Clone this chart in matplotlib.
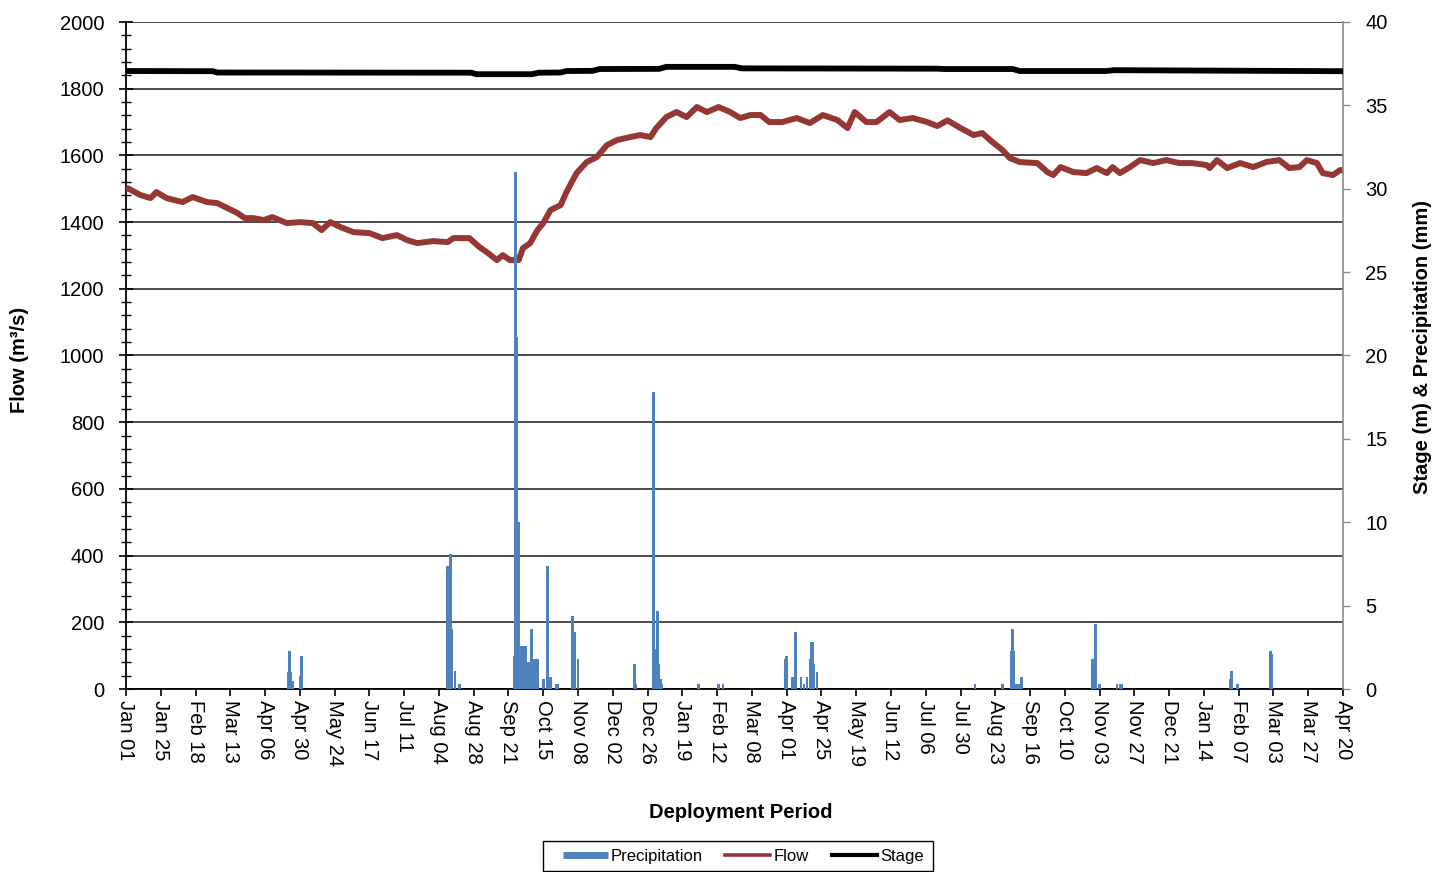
import pandas as pd
import matplotlib
matplotlib.use("Agg")
import matplotlib.pyplot as plt
import matplotlib.dates as mdates
from matplotlib.ticker import MultipleLocator
from matplotlib.lines import Line2D
from matplotlib.patches import Rectangle

plt.rcParams['font.family'] = ['Liberation Sans', 'DejaVu Sans']

START = pd.Timestamp('2008-01-01')
END = pd.Timestamp('2010-04-20')

# Flow (m3/s) by day offset from START
flow_day = [0, 1, 10, 17, 21, 28, 39, 46, 56, 63, 70, 77, 82, 88, 95, 101, 111, 120,
            129, 135, 141, 148, 157, 168, 177, 187, 194, 201, 212, 222, 226, 237, 244,
            249, 256, 260, 265, 271, 274, 279, 284, 288, 293, 300, 304, 311, 318, 325,
            332, 339, 348, 355, 362, 366, 373, 380, 387, 394, 401, 409, 417, 424, 431,
            438, 444, 453, 463, 472, 481, 491, 498, 503, 511, 518, 527, 534, 543, 553,
            560, 567, 576, 585, 591, 598, 605, 610, 617, 629, 636, 640, 645, 654, 663,
            670, 677, 681, 686, 693, 700, 709, 718, 727, 736, 746, 748, 753, 760, 769,
            778, 787, 796, 803, 810, 815, 822, 826, 833, 838, 840]
flow_cms = [1500, 1502, 1481, 1472, 1490, 1472, 1460, 1475, 1460, 1457, 1442, 1427, 1412,
            1412, 1406, 1415, 1397, 1400, 1397, 1376, 1400, 1385, 1370, 1367, 1352, 1361,
            1346, 1337, 1343, 1340, 1352, 1352, 1325, 1310, 1286, 1301, 1286, 1286, 1322,
            1337, 1376, 1397, 1436, 1451, 1490, 1547, 1580, 1595, 1631, 1646, 1655, 1661,
            1655, 1682, 1715, 1730, 1715, 1745, 1730, 1745, 1730, 1712, 1721, 1721, 1700,
            1700, 1712, 1697, 1721, 1706, 1682, 1730, 1700, 1700, 1730, 1706, 1712, 1700,
            1688, 1705, 1682, 1661, 1667, 1640, 1616, 1592, 1580, 1577, 1550, 1541, 1565,
            1550, 1547, 1562, 1547, 1565, 1547, 1565, 1586, 1577, 1586, 1577, 1577, 1571,
            1562, 1586, 1562, 1577, 1565, 1580, 1586, 1562, 1565, 1586, 1577, 1547, 1541,
            1556, 1556]

# Stage (m)
stage_day = [0, 60, 63, 238, 242, 280, 285, 300, 304, 322, 327, 368, 373, 420, 425,
             560, 565, 612, 617, 676, 682, 840]
stage_m = [37.06, 37.05, 36.97, 36.96, 36.87, 36.87, 36.96, 36.97, 37.06, 37.07, 37.18,
           37.19, 37.31, 37.31, 37.22, 37.20, 37.18, 37.18, 37.06, 37.06, 37.11, 37.05]

# Daily precipitation (mm), non-zero days only
rain_day = [112, 113, 114, 115, 120, 121, 222, 224, 225, 227, 230,
            268, 269, 270, 271, 272, 273, 274, 275, 276, 277, 278, 279, 280, 281, 282, 283, 284,
            288, 291, 293, 297, 298, 308, 310, 312, 351, 352,
            364, 365, 366, 367, 368, 369, 370, 395, 409, 412,
            455, 456, 460, 462, 466, 468, 470, 472, 473, 474, 475, 477,
            586, 605, 611, 612, 613, 614, 615, 616, 618,
            667, 669, 672, 684, 686, 687, 762, 763, 767, 790, 791]
rain_mm = [1.0, 2.3, 1.0, 0.5, 0.8, 2.0, 7.4, 8.1, 3.6, 1.1, 0.3,
           2.0, 31.0, 21.1, 10.0, 2.6, 2.6, 2.6, 2.6, 2.6, 1.6, 1.6, 1.6, 3.6, 1.6, 1.8, 1.8, 1.8,
           0.6, 7.4, 0.7, 0.3, 0.3, 4.4, 3.4, 1.8, 1.5, 0.3,
           17.8, 2.4, 2.4, 4.7, 1.5, 0.6, 0.3, 0.3, 0.3, 0.3,
           1.8, 2.0, 0.7, 3.4, 0.7, 0.3, 0.7, 1.8, 2.8, 2.8, 1.5, 1.0,
           0.3, 0.3, 2.3, 3.6, 2.3, 0.3, 0.3, 0.3, 0.7,
           1.8, 3.9, 0.3, 0.3, 0.3, 0.3, 0.6, 1.1, 0.3, 2.3, 2.1]

series_labels = ['Precipitation', 'Flow', 'Stage']
series_colors = ['#4F81BD', '#953735', '#000000']


def to_dates(days):
    return START + pd.to_timedelta(days, unit='D')


flow_dates = to_dates(flow_day)
stage_dates = to_dates(stage_day)
rain_dates = to_dates(rain_day)
tick_dates = pd.date_range(START, END, freq='24D')

W, H = 1449, 872
fig = plt.figure(figsize=(W / 100, H / 100), dpi=100)
ax = fig.add_axes([126 / W, 1 - 689 / H, (1343 - 126) / W, (689 - 22) / H])
ax2 = ax.twinx()

# primary axis: flow
ax.plot(flow_dates, flow_cms, color=series_colors[1], lw=4.3, zorder=3)
ax.set_ylim(0, 2000)
ax.set_xlim(START, END)
ax.yaxis.set_major_locator(MultipleLocator(200))
ax.yaxis.set_minor_locator(MultipleLocator(40))
ax.grid(axis='y', which='major', color='#2b2b2b', lw=1.2, zorder=0)
ax.set_xticks(tick_dates)
ax.xaxis.set_major_formatter(mdates.DateFormatter('%b %d'))

# secondary axis: precipitation and stage
ax2.bar(rain_dates, rain_mm, width=1.8, color=series_colors[0], linewidth=0, zorder=2)
ax2.plot(stage_dates, stage_m, color=series_colors[2], lw=4.2, zorder=3)
ax2.set_ylim(0, 40)
ax2.yaxis.set_major_locator(MultipleLocator(5))

for s in ['top', 'right']:
    ax.spines[s].set_visible(False)
for s in ['top', 'left', 'bottom']:
    ax2.spines[s].set_visible(False)
ax.spines['left'].set_linewidth(1.3)
ax.spines['bottom'].set_linewidth(1.3)
ax2.spines['right'].set_color('#8a8a8a')
ax2.spines['right'].set_linewidth(1.2)

ax.tick_params(axis='y', which='major', direction='inout', length=10, width=1.2,
               labelsize=14.5, pad=10.5, colors='black')
ax.tick_params(axis='y', which='minor', direction='inout', length=6.5, width=1.0)
ax.tick_params(axis='x', which='major', direction='out', length=5, width=1.2,
               labelsize=14.5, pad=3)
ax2.tick_params(axis='y', direction='out', length=5, width=1.0, color='#8a8a8a',
                labelcolor='black', labelsize=14.5, pad=11)
for lab in ax.get_xticklabels():
    lab.set_rotation(-90)
    lab.set_ha('center')
    lab.set_va('top')

fig.text(20 / W, 1 - 360 / H, 'Flow (m³/s)', rotation=90, ha='center', va='center',
         fontsize=14.5, fontweight='bold')
fig.text(1422 / W, 1 - 347 / H, 'Stage (m) & Precipitation (mm)', rotation=90,
         ha='center', va='center', fontsize=14.5, fontweight='bold')
fig.text(741 / W, 1 - 812 / H, 'Deployment Period', ha='center', va='center',
         fontsize=14.5, fontweight='bold')

handles = [Line2D([], [], color=series_colors[0], lw=5.0, solid_capstyle='butt'),
           Line2D([], [], color=series_colors[1], lw=2.6),
           Line2D([], [], color=series_colors[2], lw=3.0)]
leg = fig.legend(handles, series_labels, loc='center', bbox_to_anchor=(743 / W, 1 - 856 / H),
                 ncol=3, frameon=False, fontsize=12,
                 handlelength=2.7, handletextpad=0.2, columnspacing=1.35, borderpad=0.35,
                 borderaxespad=0)
# legend border box
fig.add_artist(Rectangle((543 / W, 1 - 871 / H), (933 - 543) / W, 30 / H,
                         transform=fig.transFigure, fill=False, edgecolor='black', lw=1.0))

fig.savefig('out.png', dpi=100)
